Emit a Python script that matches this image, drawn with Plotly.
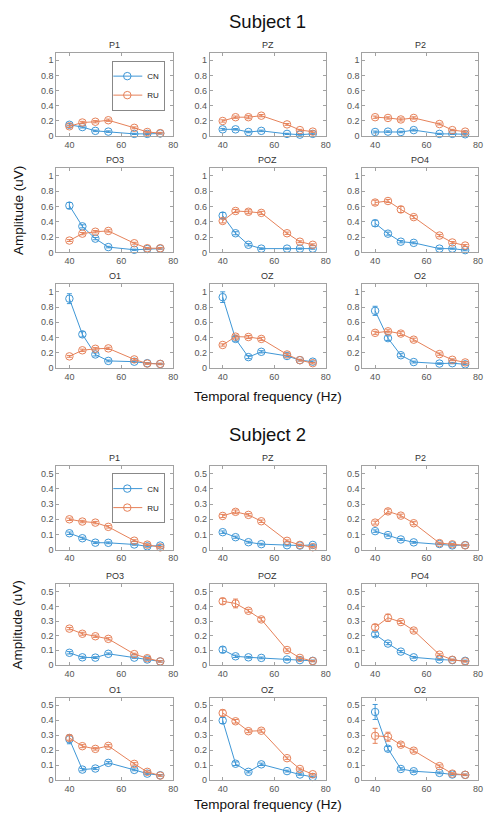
import plotly.graph_objects as go

# Stimulation frequencies (Hz)
freqs = [40, 45, 50, 55, 65, 70, 75]
electrodes = ["P1", "PZ", "P2", "PO3", "POZ", "PO4", "O1", "OZ", "O2"]
groups = ["CN", "RU"]

# Subject 1 mean amplitudes (uV) per electrode
s1_cn_mean = {
    "P1": [0.15, 0.12, 0.07, 0.06, 0.03, 0.03, 0.035],
    "PZ": [0.09, 0.09, 0.055, 0.07, 0.03, 0.02, 0.03],
    "P2": [0.055, 0.06, 0.055, 0.08, 0.03, 0.03, 0.025],
    "PO3": [0.61, 0.34, 0.18, 0.07, 0.035, 0.045, 0.05],
    "POZ": [0.48, 0.25, 0.10, 0.05, 0.05, 0.05, 0.05],
    "PO4": [0.38, 0.245, 0.14, 0.125, 0.05, 0.05, 0.03],
    "O1": [0.91, 0.44, 0.175, 0.09, 0.08, 0.06, 0.05],
    "OZ": [0.93, 0.38, 0.14, 0.21, 0.155, 0.10, 0.08],
    "O2": [0.75, 0.39, 0.165, 0.075, 0.055, 0.06, 0.045],
}
s1_ru_mean = {
    "P1": [0.13, 0.18, 0.19, 0.21, 0.11, 0.055, 0.04],
    "PZ": [0.20, 0.25, 0.25, 0.27, 0.155, 0.08, 0.06],
    "P2": [0.25, 0.24, 0.22, 0.24, 0.16, 0.08, 0.06],
    "PO3": [0.155, 0.245, 0.27, 0.28, 0.12, 0.055, 0.055],
    "POZ": [0.41, 0.54, 0.53, 0.515, 0.25, 0.14, 0.10],
    "PO4": [0.65, 0.67, 0.56, 0.46, 0.22, 0.13, 0.09],
    "O1": [0.15, 0.23, 0.25, 0.255, 0.11, 0.055, 0.05],
    "OZ": [0.30, 0.41, 0.405, 0.38, 0.175, 0.10, 0.06],
    "O2": [0.46, 0.48, 0.45, 0.37, 0.18, 0.105, 0.07],
}
# Subject 1 standard errors
s1_cn_err = {
    "P1": [0.015, 0.012, 0.01, 0.01, 0.008, 0.008, 0.008],
    "PZ": [0.012, 0.01, 0.01, 0.01, 0.008, 0.008, 0.008],
    "P2": [0.012, 0.01, 0.01, 0.012, 0.008, 0.008, 0.008],
    "PO3": [0.04, 0.02, 0.015, 0.01, 0.008, 0.008, 0.008],
    "POZ": [0.04, 0.02, 0.015, 0.01, 0.008, 0.008, 0.008],
    "PO4": [0.04, 0.02, 0.015, 0.012, 0.008, 0.008, 0.008],
    "O1": [0.065, 0.035, 0.02, 0.012, 0.01, 0.008, 0.008],
    "OZ": [0.07, 0.03, 0.02, 0.015, 0.012, 0.01, 0.01],
    "O2": [0.06, 0.03, 0.02, 0.012, 0.01, 0.008, 0.008],
}
s1_ru_err = {
    "P1": [0.015, 0.015, 0.015, 0.015, 0.012, 0.01, 0.01],
    "PZ": [0.015, 0.015, 0.02, 0.015, 0.012, 0.01, 0.01],
    "P2": [0.015, 0.015, 0.02, 0.015, 0.012, 0.01, 0.01],
    "PO3": [0.012, 0.015, 0.015, 0.015, 0.012, 0.01, 0.01],
    "POZ": [0.025, 0.02, 0.025, 0.02, 0.015, 0.012, 0.012],
    "PO4": [0.03, 0.02, 0.04, 0.02, 0.015, 0.012, 0.012],
    "O1": [0.012, 0.015, 0.015, 0.015, 0.012, 0.01, 0.01],
    "OZ": [0.015, 0.02, 0.02, 0.02, 0.015, 0.012, 0.01],
    "O2": [0.02, 0.02, 0.025, 0.02, 0.015, 0.012, 0.01],
}

# Subject 2 mean amplitudes (uV) per electrode
s2_cn_mean = {
    "P1": [0.108, 0.075, 0.046, 0.045, 0.034, 0.022, 0.027],
    "PZ": [0.115, 0.082, 0.049, 0.036, 0.029, 0.027, 0.031],
    "P2": [0.122, 0.096, 0.067, 0.048, 0.037, 0.028, 0.030],
    "PO3": [0.083, 0.052, 0.050, 0.076, 0.050, 0.037, 0.024],
    "POZ": [0.104, 0.059, 0.052, 0.048, 0.037, 0.033, 0.028],
    "PO4": [0.209, 0.146, 0.091, 0.052, 0.037, 0.033, 0.028],
    "O1": [0.273, 0.071, 0.078, 0.116, 0.069, 0.044, 0.033],
    "OZ": [0.398, 0.110, 0.056, 0.106, 0.061, 0.038, 0.022],
    "O2": [0.455, 0.210, 0.075, 0.060, 0.049, 0.038, 0.036],
}
s2_ru_mean = {
    "P1": [0.200, 0.185, 0.178, 0.150, 0.059, 0.033, 0.015],
    "PZ": [0.222, 0.249, 0.229, 0.187, 0.058, 0.031, 0.016],
    "P2": [0.178, 0.252, 0.224, 0.174, 0.043, 0.035, 0.028],
    "PO3": [0.248, 0.213, 0.196, 0.178, 0.074, 0.046, 0.024],
    "POZ": [0.435, 0.420, 0.370, 0.311, 0.102, 0.048, 0.026],
    "PO4": [0.257, 0.322, 0.293, 0.235, 0.070, 0.035, 0.024],
    "O1": [0.282, 0.227, 0.209, 0.229, 0.109, 0.056, 0.031],
    "OZ": [0.448, 0.393, 0.327, 0.330, 0.147, 0.075, 0.040],
    "O2": [0.296, 0.290, 0.237, 0.197, 0.094, 0.044, 0.036],
}
# Subject 2 standard errors
s2_cn_err = {
    "P1": [0.008, 0.007, 0.006, 0.006, 0.005, 0.005, 0.005],
    "PZ": [0.008, 0.007, 0.006, 0.006, 0.005, 0.005, 0.005],
    "P2": [0.008, 0.007, 0.006, 0.006, 0.005, 0.005, 0.005],
    "PO3": [0.008, 0.007, 0.006, 0.006, 0.005, 0.005, 0.005],
    "POZ": [0.02, 0.008, 0.006, 0.006, 0.005, 0.005, 0.005],
    "PO4": [0.015, 0.008, 0.007, 0.006, 0.005, 0.005, 0.005],
    "O1": [0.03, 0.008, 0.007, 0.008, 0.006, 0.005, 0.005],
    "OZ": [0.02, 0.012, 0.007, 0.008, 0.006, 0.005, 0.005],
    "O2": [0.05, 0.015, 0.008, 0.007, 0.006, 0.005, 0.005],
}
s2_ru_err = {
    "P1": [0.008, 0.008, 0.008, 0.008, 0.006, 0.005, 0.005],
    "PZ": [0.01, 0.012, 0.008, 0.008, 0.006, 0.005, 0.005],
    "P2": [0.01, 0.015, 0.01, 0.01, 0.006, 0.005, 0.005],
    "PO3": [0.008, 0.01, 0.008, 0.008, 0.006, 0.005, 0.005],
    "POZ": [0.02, 0.03, 0.01, 0.012, 0.008, 0.006, 0.005],
    "PO4": [0.02, 0.025, 0.01, 0.01, 0.006, 0.005, 0.005],
    "O1": [0.015, 0.01, 0.008, 0.008, 0.008, 0.006, 0.005],
    "OZ": [0.02, 0.012, 0.01, 0.01, 0.008, 0.006, 0.005],
    "O2": [0.05, 0.03, 0.012, 0.01, 0.008, 0.006, 0.005],
}

subjects = [
    {"title": "Subject 1", "cn": (s1_cn_mean, s1_cn_err), "ru": (s1_ru_mean, s1_ru_err),
     "yrange": [0, 1.1], "dtick": 0.2, "legend": "legend"},
    {"title": "Subject 2", "cn": (s2_cn_mean, s2_cn_err), "ru": (s2_ru_mean, s2_ru_err),
     "yrange": [0, 0.55], "dtick": 0.1, "legend": "legend2"},
]

W, H = 488, 822
COLORS = {"CN": "#3f97d6", "RU": "#e6825a"}
AXIS_GREY = "#a2a2a2"
TICK_GREY = "#555555"
FONT = "Liberation Sans, Arial"

# Panel geometry in pixels: columns (left, right), rows (top, bottom) per subject
col_px = [(57, 175), (212, 329), (366, 483)]
row_px = [
    [(53, 137), (169, 254), (286, 370)],
    [(469, 553), (588, 669), (702, 785)],
]
title_y = [22, 437]
xlabel_y = [399, 809]


def px_x(v):
    return v / W


def px_y(v):
    return 1 - v / H


fig = go.Figure()
annotations = []
layout_axes = {}

idx = 0
for s, subj in enumerate(subjects):
    for k, elec in enumerate(electrodes):
        idx += 1
        r, c = divmod(k, 3)
        x0, x1 = col_px[c]
        y0, y1 = row_px[s][r]
        suffix = "" if idx == 1 else str(idx)
        xa, ya = "x" + suffix, "y" + suffix

        for g in groups:
            mean, err = subj[g.lower()]
            fig.add_trace(go.Scatter(
                x=freqs, y=mean[elec], xaxis=xa, yaxis=ya,
                mode="lines+markers", name=g,
                line=dict(color=COLORS[g], width=1),
                marker=dict(symbol="circle-open", size=7.5, color=COLORS[g],
                            line=dict(width=1, color=COLORS[g])),
                error_y=dict(type="data", array=err[elec], visible=True,
                             color=COLORS[g], thickness=1, width=2.5),
                showlegend=(k == 0), legend=subj["legend"],
                cliponaxis=False,
            ))

        common = dict(showline=True, linecolor=AXIS_GREY, linewidth=1, mirror="ticks",
                      ticks="inside", ticklen=3, tickcolor=AXIS_GREY, showgrid=False,
                      zeroline=False, tickfont=dict(size=9, color=TICK_GREY, family=FONT))
        layout_axes["xaxis" + suffix] = dict(
            common, domain=[px_x(x0), px_x(x1)], anchor=ya, range=[35, 80],
            tickvals=[40, 60, 80])
        layout_axes["yaxis" + suffix] = dict(
            common, domain=[px_y(y1), px_y(y0)], anchor=xa, range=subj["yrange"],
            dtick=subj["dtick"], tick0=0)

        annotations.append(dict(
            text=elec, xref="paper", yref="paper", x=px_x((x0 + x1) / 2),
            y=px_y(y0 - 1), xanchor="center", yanchor="bottom", showarrow=False,
            font=dict(size=9, color="#333333", family=FONT)))

    # Subject heading, shared axis labels
    mid = (col_px[1][0] + col_px[1][1]) / 2
    annotations.append(dict(
        text=subj["title"], xref="paper", yref="paper", x=px_x(mid), y=px_y(title_y[s]),
        xanchor="center", yanchor="middle", showarrow=False,
        font=dict(size=18.5, color="#111111", family=FONT)))
    annotations.append(dict(
        text="Temporal frequency (Hz)", xref="paper", yref="paper", x=px_x(mid),
        y=px_y(xlabel_y[s]), xanchor="center", yanchor="middle", showarrow=False,
        font=dict(size=13.5, color="#111111", family=FONT)))
    ymid = (row_px[s][1][0] + row_px[s][1][1]) / 2
    annotations.append(dict(
        text="Amplitude (uV)", xref="paper", yref="paper", x=px_x(18), y=px_y(ymid),
        xanchor="center", yanchor="middle", textangle=-90, showarrow=False,
        font=dict(size=13.5, color="#111111", family=FONT)))

legend_style = dict(xanchor="right", yanchor="top", bgcolor="white",
                    bordercolor="#888888", borderwidth=1, itemwidth=30,
                    indentation=-6, tracegroupgap=0,
                    font=dict(size=8, color="#222222", family=FONT))

fig.update_layout(
    width=W, height=H, margin=dict(l=0, r=0, t=0, b=0),
    paper_bgcolor="white", plot_bgcolor="white",
    annotations=annotations,
    legend=dict(legend_style, x=px_x(167), y=px_y(61)),
    legend2=dict(legend_style, x=px_x(167), y=px_y(476)),
    **layout_axes,
)

fig.write_html("out.html")
